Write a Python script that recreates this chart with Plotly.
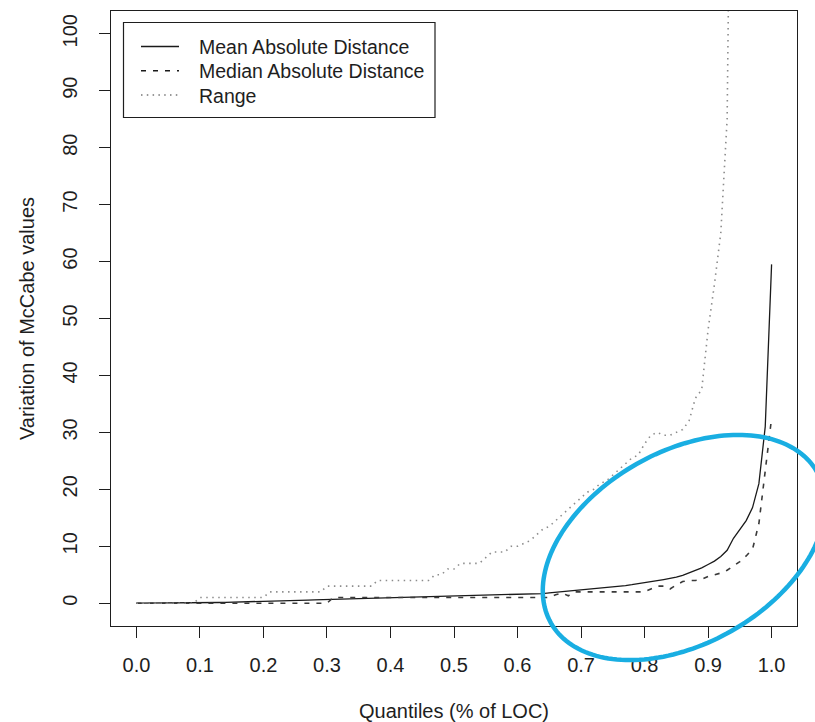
import math
import plotly.graph_objects as go

# ---------------- data ----------------
quantiles = [0.00, 0.01, 0.02, 0.03, 0.04, 0.05, 0.06, 0.07, 0.08, 0.09,
             0.10, 0.11, 0.12, 0.13, 0.14, 0.15, 0.16, 0.17, 0.18, 0.19,
             0.20, 0.21, 0.22, 0.23, 0.24, 0.25, 0.26, 0.27, 0.28, 0.29,
             0.30, 0.31, 0.32, 0.33, 0.34, 0.35, 0.36, 0.37, 0.38, 0.39,
             0.40, 0.41, 0.42, 0.43, 0.44, 0.45, 0.46, 0.47, 0.48, 0.49,
             0.50, 0.51, 0.52, 0.53, 0.54, 0.55, 0.56, 0.57, 0.58, 0.59,
             0.60, 0.61, 0.62, 0.63, 0.64, 0.65, 0.66, 0.67, 0.68, 0.69,
             0.70, 0.71, 0.72, 0.73, 0.74, 0.75, 0.76, 0.77, 0.78, 0.79,
             0.80, 0.81, 0.82, 0.83, 0.84, 0.85, 0.86, 0.87, 0.88, 0.89,
             0.90, 0.91, 0.92, 0.93, 0.94, 0.95, 0.96, 0.97, 0.98, 0.99,
             1.00]

mean_abs_dist = [0.00, 0.00, 0.00, 0.00, 0.01, 0.02, 0.03, 0.04, 0.05, 0.06,
                 0.08, 0.10, 0.11, 0.13, 0.15, 0.17, 0.19, 0.21, 0.24, 0.27,
                 0.30, 0.33, 0.36, 0.40, 0.44, 0.48, 0.52, 0.55, 0.58, 0.61,
                 0.64, 0.67, 0.70, 0.72, 0.75, 0.78, 0.80, 0.83, 0.86, 0.89,
                 0.92, 0.94, 0.96, 0.99, 1.01, 1.04, 1.06, 1.09, 1.11, 1.14,
                 1.17, 1.20, 1.22, 1.25, 1.28, 1.31, 1.35, 1.38, 1.42, 1.46,
                 1.50, 1.55, 1.60, 1.65, 1.70, 1.80, 1.90, 2.00, 2.10, 2.20,
                 2.30, 2.40, 2.50, 2.60, 2.70, 2.80, 2.95, 3.10, 3.25, 3.40,
                 3.55, 3.75, 3.95, 4.15, 4.35, 4.60, 4.90, 5.30, 5.70, 6.20,
                 6.80, 7.40, 8.20, 9.30, 11.4, 12.9, 14.5, 16.8, 21.0, 31.0,
                 59.5]

median_abs_dist = [0, 0, 0, 0, 0, 0, 0, 0, 0, 0,
                   0, 0, 0, 0, 0, 0, 0, 0, 0, 0,
                   0, 0, 0, 0, 0, 0, 0, 0, 0, 0,
                   0, 1, 1, 1, 1, 1, 1, 1, 1, 1,
                   1, 1, 1, 1, 1, 1, 1, 1, 1, 1,
                   1, 1, 1, 1, 1, 1, 1, 1, 1, 1,
                   1, 1, 1, 1, 1, 1, 1.5, 1.8, 1.3, 2,
                   2, 2, 2, 2, 2, 2, 2, 2, 2, 2,
                   2, 2.5, 3, 3, 2.5, 3.2, 3.8, 4, 4, 4.2,
                   4.7, 5.0, 5.3, 5.8, 6.5, 7.3, 8.3, 9.5, 14.0, 23.5,
                   32.5]

value_range = [0, 0, 0, 0, 0, 0, 0, 0, 0, 0,
               1, 1, 1, 1, 1, 1, 1, 1, 1, 1,
               1, 2, 2, 2, 2, 2, 2, 2, 2, 2,
               3, 3, 3, 3, 3, 3, 3, 3, 4, 4,
               4, 4, 4, 4, 4, 4, 4, 5, 5, 6,
               6, 7, 7, 7, 7, 8, 9, 9, 9, 10,
               10, 10.5, 11, 12, 13, 13.5, 14.5, 15.5, 16.5, 17.5,
               18.5, 19.5, 20, 21, 21.5, 22.5, 23.5, 24.5, 25.5, 26,
               28, 29.5, 30, 29.5, 29.5, 30, 30.5, 32, 36, 37.5,
               48, 56, 65, 85, 140, 190, 250, 320, 420, 560,
               800]

series_names = ["Mean Absolute Distance", "Median Absolute Distance", "Range"]
x_ticks = [0.0, 0.1, 0.2, 0.3, 0.4, 0.5, 0.6, 0.7, 0.8, 0.9, 1.0]
y_ticks = [0, 10, 20, 30, 40, 50, 60, 70, 80, 90, 100]

# ---------------- styling ----------------
FONT = "Liberation Sans, Arial, Helvetica, sans-serif"
INK = "#1e1e1e"
styles = [dict(color="#1a1a1a", width=1.3, dash="solid"),
          dict(color="#3a3a3a", width=1.6, dash="5px,7px"),
          dict(color="#8c8c8c", width=1.6, dash="1.5px,4.5px")]
legend_line_styles = [dict(color="#1a1a1a", width=1.3, dash="solid"),
                      dict(color="#1a1a1a", width=1.4, dash="5px,7px"),
                      dict(color="#777777", width=1.5, dash="1.5px,4.3px")]

fig = go.Figure()
for name, yvals, st in zip(series_names,
                           [mean_abs_dist, median_abs_dist, value_range],
                           styles):
    fig.add_trace(go.Scatter(x=quantiles, y=yvals, mode="lines",
                             name=name, line=st, showlegend=False))

# plot-area geometry in pixels
L, R, T, B = 111, 797, 11, 626
W, H = 815, 722

def to_paper(px, py):
    return (px - L) / (R - L), (B - py) / (B - T)

# ---- legend drawn as box + sample lines + text (R style) ----
bx0, by0 = to_paper(123.5, 22.5)
bx1, by1 = to_paper(435.0, 117.5)
fig.add_shape(type="rect", xref="paper", yref="paper",
              x0=bx0, y0=by1, x1=bx1, y1=by0,
              line=dict(color=INK, width=1.2), fillcolor="white", layer="above")
row_y = [46.5, 70.7, 95.0]
for name, ry, st in zip(series_names, row_y, legend_line_styles):
    lx0, ly = to_paper(141, ry)
    lx1, _ = to_paper(179, ry)
    fig.add_shape(type="line", xref="paper", yref="paper",
                  x0=lx0, x1=lx1, y0=ly, y1=ly, line=st, layer="above")
    tx, ty = to_paper(196.5, ry + 0.5)
    fig.add_annotation(x=tx, y=ty, xref="paper", yref="paper",
                       text=name, showarrow=False, xanchor="left",
                       yanchor="middle",
                       font=dict(family=FONT, size=19.5, color=INK))

# ---- hand-drawn blue highlight ellipse ----
cx, cy, a, b, th = 684.0, 547.5, 153.0, 96.0, math.radians(29.6)
pts = []
for i in range(181):
    t = 2 * math.pi * i / 180
    px = cx + a * math.cos(t) * math.cos(th) + b * math.sin(t) * math.sin(th)
    py = cy - a * math.cos(t) * math.sin(th) + b * math.sin(t) * math.cos(th)
    xp, yp = to_paper(px, py)
    pts.append(f"{xp:.5f},{yp:.5f}")
ellipse_path = "M" + " L".join(pts) + " Z"
fig.add_shape(type="path", path=ellipse_path, xref="paper", yref="paper",
              line=dict(color="#19aee2", width=4.5), layer="above")

fig.update_layout(
    width=W, height=H,
    margin=dict(l=L, r=W - R, t=T, b=H - B),
    paper_bgcolor="white", plot_bgcolor="white",
    font=dict(family=FONT, size=20, color=INK),
    showlegend=False,
    xaxis=dict(range=[-0.04, 1.04], tickvals=x_ticks, tickformat=".1f",
               automargin=False,
               showgrid=False, zeroline=False,
               showline=True, mirror=True, linecolor=INK, linewidth=1.3,
               ticks="outside", ticklen=11, tickwidth=1.3, tickcolor=INK,
               ticklabelstandoff=10,
               tickfont=dict(family=FONT, size=20, color=INK),
               title=dict(text="Quantiles (% of LOC)", standoff=30,
                          font=dict(family=FONT, size=20, color=INK))),
    yaxis=dict(range=[-4, 104], tickvals=y_ticks,
               automargin=False,
               showgrid=False, zeroline=False,
               showline=True, mirror=True, linecolor=INK, linewidth=1.3,
               ticks="outside", ticklen=11, tickwidth=1.3, tickcolor=INK,
               tickangle=-90, ticklabelstandoff=14,
               tickfont=dict(family=FONT, size=20, color=INK),
               title=dict(text="Variation of McCabe values", standoff=18,
                          font=dict(family=FONT, size=20, color=INK))),
)

fig.write_html("out.html",
               config={"displayModeBar": False},
               post_script="document.body.style.margin='0px';"
                           "document.body.style.overflow='hidden';")
